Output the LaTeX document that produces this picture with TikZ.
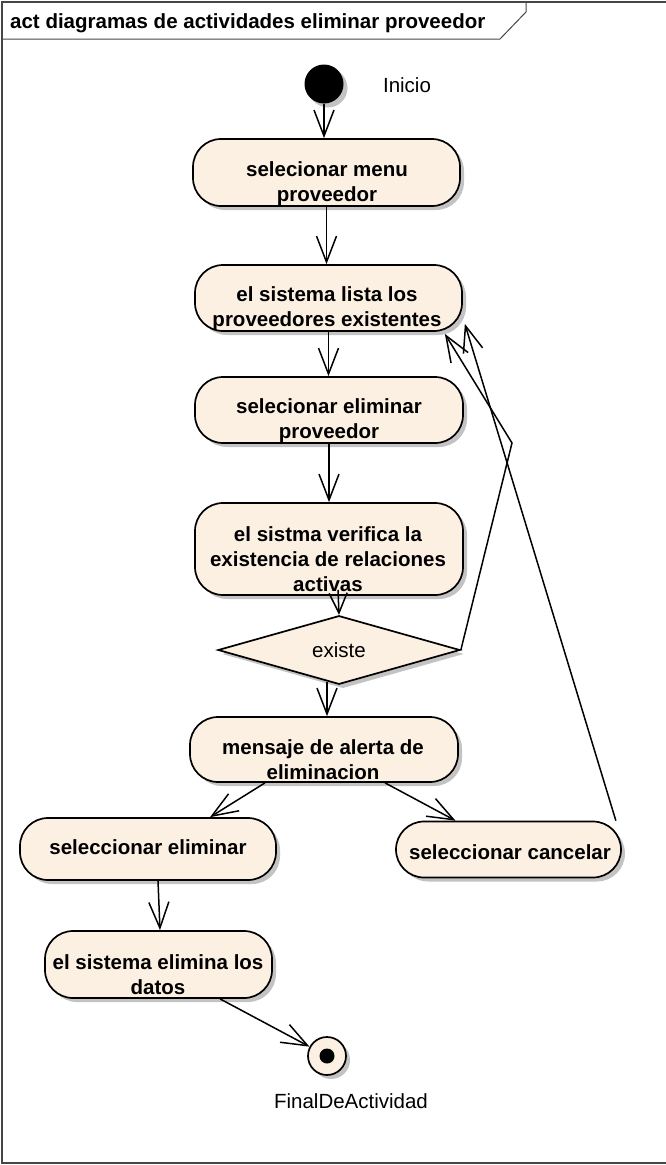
\documentclass[tikz,border=0pt]{standalone}
\usepackage{fontspec}
\setmainfont{Liberation Sans}
\usetikzlibrary{arrows.meta,shapes.geometric,shadows,calc}
\definecolor{actfill}{RGB}{251,240,226}
\definecolor{shadowgray}{RGB}{195,195,195}
\definecolor{framegray}{RGB}{70,70,70}
\begin{document}
\begin{tikzpicture}[x=1pt,y=-1pt,
  shd/.style={general shadow={fill=shadowgray, shadow xshift=4pt, shadow yshift=-4pt}},
  act/.style={draw=black, line width=1.7pt, fill=actfill, rounded corners=28pt, inner sep=0pt, shd},
  lbl/.style={font=\bfseries\fontsize{20.5}{25}\selectfont, align=center, inner sep=0pt},
  plain/.style={font=\fontsize{20.5}{25}\selectfont, inner sep=0pt},
  flow/.style={draw=black, line width=1.5pt, -{Straight Barb[length=26pt,width=20pt,line width=1.5pt]}},
  shortflow/.style={draw=black, line width=1.5pt, -{Straight Barb[length=20pt,width=18pt,line width=1.5pt]}}]
\useasboundingbox (0,0) rectangle (666,1165);
% frame
\draw[line width=1.2pt, draw=framegray] (667,2) -- (2,2) -- (2,1163) -- (667,1163);
\draw[line width=1pt, draw=framegray] (2,39) -- (500,39) -- (526,12) -- (526,2);
\node[font=\bfseries\fontsize{20.5}{25}\selectfont, anchor=base west, inner sep=0pt] (title) at (10,28) {act diagramas de actividades eliminar proveedor};
% nodes
\node[circle, fill=black, minimum size=39pt, inner sep=0pt, shd] (init) at (324,84) {};
\node[plain] (inilbl) at (407,85) {Inicio};
\node[act, minimum width=267pt, minimum height=67pt] (n1) at (326.5,172.5) {};
\node[act, minimum width=267pt, minimum height=66pt] (n2) at (328.5,298) {};
\node[act, minimum width=268pt, minimum height=66pt] (n3) at (329,410) {};
\node[act, minimum width=268pt, minimum height=92pt] (n4) at (329,549) {};
\node[diamond, draw=black, line width=1.7pt, fill=actfill, minimum width=242pt, minimum height=67pt, inner sep=0pt, shd, plain] (dia) at (339,650) {existe};
\node[act, minimum width=268pt, minimum height=65pt] (n5) at (324,749.5) {};
\node[act, minimum width=256pt, minimum height=62pt] (n6) at (148,849) {};
\node[act, minimum width=225pt, minimum height=56pt] (n7) at (508.5,849.5) {};
\node[act, minimum width=227pt, minimum height=67pt] (n8) at (158.5,964.5) {};
\node[circle, draw=black, line width=1.7pt, fill=actfill, minimum size=38pt, inner sep=0pt, shd] (fin) at (327,1056) {};
\node[circle, fill=black, minimum size=15pt, inner sep=0pt] (findot) at (fin) {};
\node[plain] (finlbl) at (351,1101.5) {FinalDeActividad};
% texts
\node[lbl] (t1) at (327,184) {selecionar menu\\proveedor};
\node[lbl] (t2) at (327,309) {el sistema lista los\\proveedores existentes};
\node[lbl] (t3) at (329,421) {selecionar eliminar\\proveedor};
\node[lbl] (t4) at (328,559) {el sistma verifica la\\existencia de relaciones\\activas};
\node[lbl] (t5) at (323,760) {mensaje de alerta de\\eliminacion};
\node[lbl] (t6) at (148,847) {seleccionar eliminar};
\node[lbl] (t7) at (510,852) {seleccionar cancelar};
\node[lbl] (t8) at (158,975) {el sistema elimina los\\datos};
% connectors
\coordinate (bend) at (512,443);
\draw[flow] (init.south) -- (init.south |- n1.north);
\draw[flow] (n1.south) -- (n1.south |- n2.north);
\draw[flow] (n2.south) -- (n2.south |- n3.north);
\draw[flow] (n3.south) -- (n3.south |- n4.north);
\draw[shortflow] ([xshift=9pt,yshift=6pt]n4.south) -- (dia.north);
\draw[flow] ($(dia.south)+(-12,-3)$) -- ([xshift=3pt]n5.north);
\draw[flow] (dia.east) -- (bend) -- ([xshift=-18pt,yshift=-2pt]n2.south east);
\draw[flow] ([xshift=-6pt]n7.north east) -- ([xshift=2pt,yshift=8pt]n2.south east);
\draw[flow] ([xshift=-59pt]n5.south) -- ([xshift=62pt]n6.north);
\draw[flow] ([xshift=61pt]n5.south) -- ([xshift=-53pt]n7.north);
\draw[flow] ([xshift=10pt]n6.south) -- ([xshift=1.5pt]n8.north);
\draw[flow] ([xshift=61.5pt]n8.south) -- (fin);
\end{tikzpicture}
\end{document}
